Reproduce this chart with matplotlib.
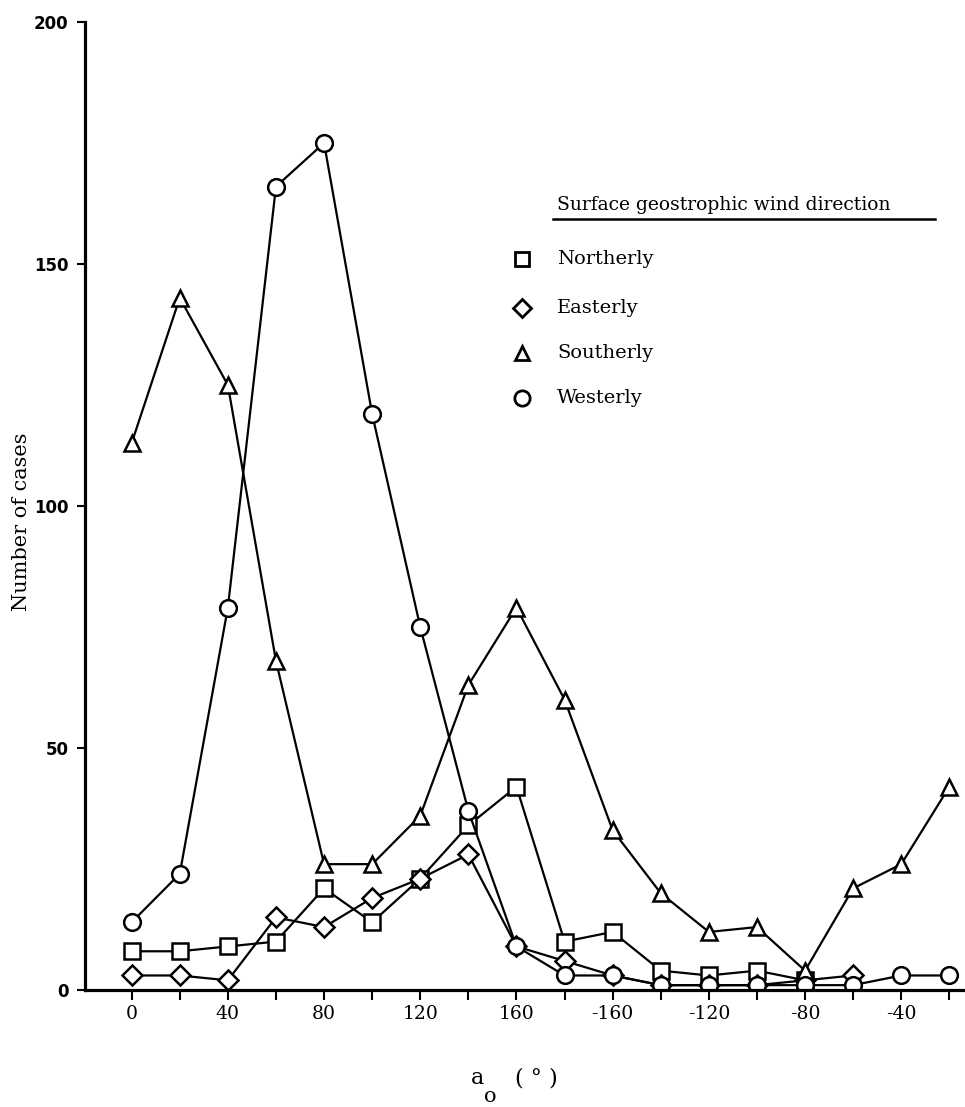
import matplotlib.pyplot as plt
from matplotlib.lines import Line2D

# Angle bins (degrees, 0..340 in steps of 20) and case counts per wind direction.
angle = [0, 20, 40, 60, 80, 100, 120, 140, 160, 180,
         200, 220, 240, 260, 280, 300, 320, 340]
northerly = [8, 8, 9, 10, 21, 14, 23, 34, 42, 10, 12, 4, 3, 4, 2]
easterly = [3, 3, 2, 15, 13, 19, 23, 28, 9, 6, 3, 1, 1, 1, 2, 3]
southerly = [113, 143, 125, 68, 26, 26, 36, 63, 79, 60,
             33, 20, 12, 13, 4, 21, 26, 42]
westerly = [14, 24, 79, 166, 175, 119, 75, 37, 9, 3,
            3, 1, 1, 1, 1, 1, 3, 3]

tick_pos = angle
tick_labels = ['0', '', '40', '', '80', '', '120', '', '160', '',
               '-160', '', '-120', '', '-80', '', '-40', '']
y_ticks = [0, 50, 100, 150, 200]

series = [
    ('Northerly', northerly, 's', 11),
    ('Easterly', easterly, 'D', 10),
    ('Southerly', southerly, '^', 11),
    ('Westerly', westerly, 'o', 12),
]

W, H = 965, 1107
fig = plt.figure(figsize=(W / 100, H / 100), dpi=100)
ax = fig.add_axes([85 / W, (H - 990) / H, 880 / W, 968 / H])

for name, vals, mk, ms in series:
    ax.plot(angle[:len(vals)], vals, color='black', lw=1.6,
            marker=mk, ms=ms, mfc='white', mec='black', mew=1.8)

ax.set_xlim(-19.4, 346.5)
ax.set_ylim(0, 200)

for side in ['top', 'right']:
    ax.spines[side].set_visible(False)
for side in ['left', 'bottom']:
    ax.spines[side].set_linewidth(2.3)
    ax.spines[side].set_zorder(5)

ax.set_xticks(tick_pos)
ax.set_xticklabels(tick_labels, family='DejaVu Serif', fontsize=13.5)
ax.set_yticks(y_ticks)
ax.set_yticklabels([str(v) for v in y_ticks], family='DejaVu Sans',
                   fontweight='bold', fontsize=12)
ax.tick_params(axis='x', direction='out', length=7, width=1.5, pad=4)
ax.tick_params(axis='y', direction='out', length=6, width=1.5, pad=6)

# Axis titles
fig.text(22 / W, 1 - 522 / H, 'Number of cases', rotation=90,
         ha='center', va='center', family='DejaVu Serif', fontsize=15)
fig.text(478 / W, 1 - 1078 / H, 'a', ha='center', va='center',
         family='DejaVu Serif', fontsize=16)
fig.text(490 / W, 1 - 1097 / H, 'o', ha='center', va='center',
         family='DejaVu Serif', fontsize=15)
fig.text(536 / W, 1 - 1079 / H, '( ° )', ha='center', va='center',
         family='DejaVu Serif', fontsize=16)

# Hand-drawn style key
fig.text(557 / W, 1 - 205 / H, 'Surface geostrophic wind direction',
         ha='left', va='center', family='DejaVu Serif', fontsize=13.5)
fig.add_artist(Line2D([553 / W, 935 / W], [1 - 219 / H, 1 - 219 / H],
                      color='black', lw=1.8, transform=fig.transFigure))
key_y = [259, 308, 353, 398]
for (name, vals, mk, ms), yy in zip(series, key_y):
    fig.add_artist(Line2D([522 / W], [1 - yy / H], marker=mk, ms=ms - 1,
                          mfc='white', mec='black', mew=2.0, ls='none',
                          transform=fig.transFigure))
    fig.text(557 / W, 1 - yy / H, name, ha='left', va='center',
             family='DejaVu Serif', fontsize=14)

fig.savefig('out.png', dpi=100)
